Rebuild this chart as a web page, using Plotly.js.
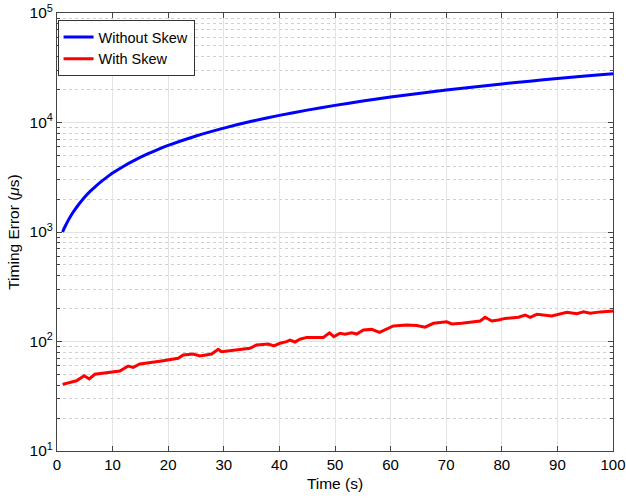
<!DOCTYPE html>
<html><head><meta charset="utf-8">
<script src="https://cdn.plot.ly/plotly-3.0.1.min.js"></script>
<style>html,body{margin:0;padding:0;background:#fff}#chart{width:626px;height:501px}</style>
</head><body><div id="chart"></div>
<script>
const timeNoSkew = [1,1.5,2,2.5,3,4,5,6,7,8,9,10,12,14,16,18,20,25,30,35,40,45,50,55,60,65,70,75,80,85,90,95,100];
const errNoSkew = [1000,1135,1270,1405,1540,1810,2090,2360,2630,2900,3170,3450,3990,4530,5080,5620,6170,7530,8890,10250,11610,12980,14340,15700,17060,18420,19780,21140,22500,23860,25220,26580,27940];
const timeSkew = [1,3.5,4.9,5.8,6.8,11.3,12.8,13.7,14.9,16.7,18.5,21.8,22.7,24.5,25.7,27.8,29,29.6,34.7,35.9,38,39,40.1,41.3,41.9,42.8,43.7,44.9,47.9,49,49.8,50.9,51.8,53,53.9,55.1,56.6,58,60.5,62.9,64.7,66.2,67.7,70.1,71,72.8,74.6,76.1,77,78.2,79.4,80.6,83,84.2,85.1,86.3,89,91.7,93.5,94.7,95.9,97.7,100];
const errSkew = [40.6,43.8,48.7,45.5,50.2,53.7,59.7,58,62.3,64.6,66.1,70.3,75.3,76.9,73.8,76.9,84.9,80.7,86.7,92.9,94.9,91,96.3,99.6,103,99,104.8,109,109,120,110.7,118.9,116.5,120.3,117,127.4,129,121.3,138.7,141.6,140,135,146.6,151.4,144.6,146.6,151.4,153.8,166.4,153.8,157,162.5,166.4,174.6,166.4,177,171,184.8,179,186.4,180.8,186.4,190];
const seriesNames = ['Without Skew','With Skew'];
const yTickVals = [10,100,1000,10000,100000];
const yTickText = ['10<sup>1</sup>','10<sup>2</sup>','10<sup>3</sup>','10<sup>4</sup>','10<sup>5</sup>'];
const xTickVals = [0,10,20,30,40,50,60,70,80,90,100];

const minorVals = [];
for (let k = 1; k < 5; k++) for (let m = 2; m <= 9; m++) minorVals.push(m * Math.pow(10, k));

const traces = [
  {x: timeNoSkew, y: errNoSkew, name: seriesNames[0], mode: 'lines', line: {color: '#0000ff', width: 3, shape: 'spline', smoothing: 0.6}},
  {x: timeSkew, y: errSkew, name: seriesNames[1], mode: 'lines', line: {color: '#ff0000', width: 3}}
];
const fam = 'Liberation Sans, Arial, sans-serif';
const layout = {
  width: 626, height: 501,
  margin: {l: 57, r: 13, t: 13, b: 50},
  paper_bgcolor: '#fff', plot_bgcolor: '#fff',
  font: {family: fam, size: 15, color: '#000'},
  showlegend: true,
  legend: {x: 0.001, y: 0.984, xanchor: 'left', yanchor: 'top', bgcolor: '#fff', bordercolor: '#333', borderwidth: 1,
           font: {family: fam, size: 14.5, color: '#000'}, tracegroupgap: 0, itemwidth: 30},
  xaxis: {
    range: [0, 100], tickvals: xTickVals, ticks: 'inside', ticklen: 5, tickcolor: '#444',
    tickfont: {family: fam, size: 15}, ticklabeloverflow: 'allow',
    showline: true, linecolor: '#444', linewidth: 1, mirror: 'ticks',
    showgrid: true, gridcolor: '#e3e3e3', zeroline: false,
    title: {text: 'Time (s)', font: {family: fam, size: 15.5}, standoff: 6}
  },
  yaxis: {
    type: 'log', range: [1, 5], tickvals: yTickVals, ticktext: yTickText,
    tickfont: {family: fam, size: 15.5},
    ticks: 'inside', ticklen: 5, tickcolor: '#444',
    showline: true, linecolor: '#444', linewidth: 1, mirror: 'ticks',
    showgrid: true, gridcolor: '#e3e3e3', zeroline: false,
    minor: {tickvals: minorVals, ticks: 'inside', ticklen: 3, tickcolor: '#444', showgrid: true, gridcolor: '#d0d0d0', griddash: 'dot', gridwidth: 1},
    title: {text: 'Timing Error (<i>μ</i>s)', font: {family: fam, size: 15.5}, standoff: 6}
  }
};
Plotly.newPlot('chart', traces, layout, {displayModeBar: false, staticPlot: true});
</script></body></html>
